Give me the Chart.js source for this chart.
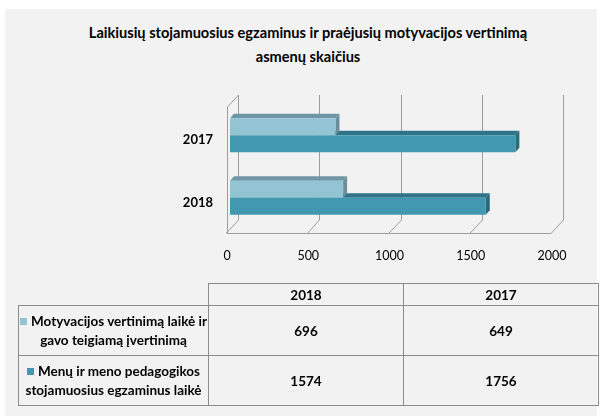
<!DOCTYPE html>
<html>
<head>
<meta charset="utf-8">
<script src="https://cdn.jsdelivr.net/npm/chart.js@4.4.1/dist/chart.umd.min.js"></script>
<style>
  html, body { margin: 0; padding: 0; background: #fff; }
  body { width: 603px; height: 416px; position: relative; overflow: hidden; font-family: Lato, sans-serif; }
  #panel { position: absolute; left: 5px; top: 9px; width: 592px; height: 407px; background: #f2f2f2; }
  #title { position: absolute; left: 8px; width: 600px; top: 21px; text-align: center; font-weight: bold; font-size: 14.6px; line-height: 24px; color: #000; }
  #countChart { position: absolute; left: 0; top: 0; }
  #dataTable { position: absolute; left: 18px; top: 283px; border-collapse: collapse; table-layout: fixed; font-size: 13.5px; font-weight: bold; color: #000; }
  #dataTable td { border: 1px solid #8c8c8c; text-align: center; padding: 0; }
  #dataTable .key { display: inline-block; width: 7px; height: 7px; margin-right: 4px; vertical-align: 1px; }
</style>
</head>
<body>
<div id="panel"></div>
<div id="title">Laikiusių stojamuosius egzaminus ir praėjusių motyvacijos vertinimą<br>asmenų skaičius</div>
<canvas id="countChart" width="603" height="416"></canvas>
<table id="dataTable"></table>
<script>
// chart data (table column order, 2018 is the bottom row of the chart)
const categories = ['2018', '2017'];
const seriesNames = [
  'Motyvacijos vertinimą laikė ir gavo teigiamą įvertinimą',
  'Menų ir meno pedagogikos stojamuosius egzaminus laikė'
];
const motivationValues = [696, 649];
const examValues = [1574, 1756];
const xTicks = [0, 500, 1000, 1500, 2000];

// colours: front, top face, side face
const frontColors = ['#93c4d4', '#4298b1'];
const topColors = ['#6f97a5', '#2f7488'];
const sideColors = ['#6a8f9c', '#2b6a7b'];

const depthX = 4, depthY = -4.5;

function fillPoly(c, pts, color) {
  c.fillStyle = color;
  c.beginPath();
  c.moveTo(pts[0][0], pts[0][1]);
  for (let k = 1; k < pts.length; k++) c.lineTo(pts[k][0], pts[k][1]);
  c.closePath();
  c.fill();
}

// 3D walls + top/side faces of the bars
const bar3d = {
  id: 'bar3d',
  beforeDatasetsDraw(chart) {
    const c = chart.ctx;
    const area = chart.chartArea;
    const xScale = chart.scales.x;
    const back = { dx: 8, dy: -9 };
    const front = { dx: -3.5, dy: 4 };
    c.save();
    c.strokeStyle = '#9d9d9d';
    c.lineWidth = 1;
    c.beginPath();
    xTicks.forEach(v => {
      const px = xScale.getPixelForValue(v);
      c.moveTo(Math.round(px + back.dx) + 0.5, area.top + back.dy);
      c.lineTo(Math.round(px + back.dx) + 0.5, area.bottom + back.dy);
      c.lineTo(px + front.dx, area.bottom + front.dy);
    });
    const floorY = Math.round(area.bottom + front.dy) + 0.5;
    c.moveTo(area.left + front.dx, floorY);
    c.lineTo(xScale.getPixelForValue(xTicks[xTicks.length - 1]) + front.dx, floorY);
    // left wall front edge
    const lx = Math.round(area.left + front.dx) + 0.5;
    c.moveTo(lx, floorY);
    c.lineTo(lx, area.top + back.dy + 12);
    c.lineTo(Math.round(area.left + back.dx) + 0.5, area.top + back.dy);
    c.stroke();

    // lower bar first so the upper one covers it
    categories.forEach((_, j) => {
      [1, 0].forEach(i => {
        const bar = chart.getDatasetMeta(i).data[j];
        const p = bar.getProps(['x', 'y', 'base', 'height'], true);
        const top = p.y - p.height / 2, bottom = p.y + p.height / 2;
        fillPoly(c, [[p.base, top], [p.base + depthX, top + depthY], [p.x + depthX, top + depthY], [p.x, top]], topColors[i]);
        fillPoly(c, [[p.x, top], [p.x + depthX, top + depthY], [p.x + depthX, bottom + depthY], [p.x, bottom]], sideColors[i]);
      });
    });
    c.restore();
  }
};

const ctx = document.getElementById('countChart');
new Chart(ctx, {
  type: 'bar',
  data: {
    labels: categories,
    datasets: [
      { label: seriesNames[0], data: motivationValues, backgroundColor: frontColors[0], borderWidth: 0 },
      { label: seriesNames[1], data: examValues, backgroundColor: frontColors[1], borderWidth: 0 }
    ]
  },
  options: {
    indexAxis: 'y',
    responsive: false,
    animation: false,
    devicePixelRatio: 1,
    categoryPercentage: 0.544,
    barPercentage: 1,
    layout: { padding: { left: 0, right: 48, top: 104, bottom: 147 } },
    plugins: { legend: { display: false }, tooltip: { enabled: false } },
    scales: {
      x: {
        min: 0, max: 2000,
        grid: { display: false, drawTicks: false },
        border: { display: false },
        ticks: {
          stepSize: 500, color: '#000', padding: 19, labelOffset: -3,
          font: { family: 'Lato', size: 12.5 },
          callback: v => String(v)
        },
        afterFit: s => { s.height = 40; }
      },
      y: {
        reverse: true,
        grid: { display: false, drawTicks: false },
        border: { display: false },
        ticks: { color: '#000', padding: 17, labelOffset: 5, font: { family: 'Lato', size: 13, weight: 'bold' } },
        afterFit: s => { s.width = 230; }
      }
    }
  },
  plugins: [bar3d]
});

// data table under the chart
const table = document.getElementById('dataTable');
const colWidths = [190, 195, 195];
table.innerHTML = '<colgroup>' + colWidths.map(w => '<col style="width:' + w + 'px">').join('') + '</colgroup>';
let head = '<tr style="height:22px"><td style="border-top:none;border-left:none"></td>';
categories.forEach(c => { head += '<td>' + c + '</td>'; });
table.innerHTML += head + '</tr>';
[motivationValues, examValues].forEach((vals, i) => {
  let row = '<tr style="height:50px"><td style="line-height:19px;padding:0 1px"><span class="key" style="background:' + frontColors[i] + '"></span>' + seriesNames[i] + '</td>';
  vals.forEach(v => { row += '<td>' + v + '</td>'; });
  table.innerHTML += row + '</tr>';
});
</script>
</body>
</html>
